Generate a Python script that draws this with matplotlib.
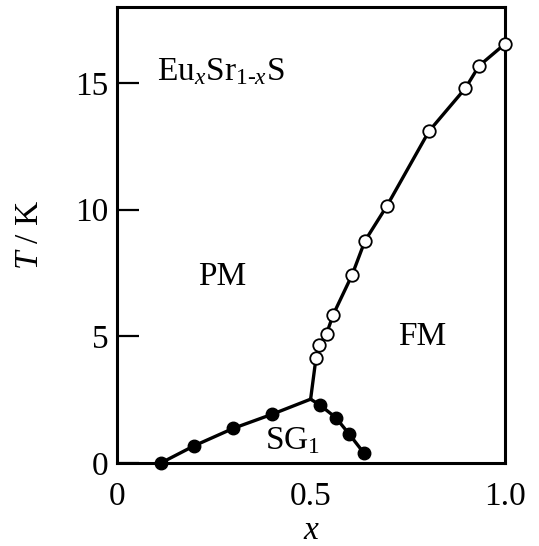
import matplotlib
matplotlib.use("Agg")
import matplotlib.pyplot as plt

plt.rcParams['font.family'] = 'Liberation Serif'
plt.rcParams['mathtext.fontset'] = 'custom'
plt.rcParams['mathtext.rm'] = 'Liberation Serif'
plt.rcParams['mathtext.it'] = 'Liberation Serif:italic'

# SG boundary, low-x side (filled circles)
sg_left_x = [0.113, 0.199, 0.300, 0.399]
sg_left_T = [0.0, 0.68, 1.37, 1.92]
# SG boundary, high-x side (filled circles)
sg_right_x = [0.523, 0.564, 0.599, 0.637]
sg_right_T = [2.29, 1.79, 1.13, 0.38]
# Curie temperature (open circles)
fm_x = [0.513, 0.521, 0.540, 0.557, 0.606, 0.639, 0.696, 0.804, 0.898, 0.933, 1.0]
fm_T = [4.16, 4.64, 5.10, 5.85, 7.43, 8.77, 10.16, 13.1, 14.8, 15.68, 16.55]
# multicritical point where the three lines meet
jx, jT = 0.499, 2.52

fig = plt.figure(figsize=(5.39, 5.46), dpi=100)
ax = fig.add_axes([0.217, 0.152, 0.72, 0.835])

ax.plot(sg_left_x + [jx], sg_left_T + [jT], color='black', lw=2.4, zorder=2)
ax.plot([jx] + sg_right_x, [jT] + sg_right_T, color='black', lw=2.4, zorder=2)
ax.plot([jx] + fm_x, [jT] + fm_T, color='black', lw=2.4, zorder=2)

ax.plot(sg_left_x, sg_left_T, 'o', color='black', ms=9, zorder=3, clip_on=False)
ax.plot(sg_right_x, sg_right_T, 'o', color='black', ms=9, zorder=3, clip_on=False)
ax.plot(fm_x, fm_T, 'o', mfc='white', mec='black', mew=1.3, ms=9, zorder=3, clip_on=False)

ax.set_xlim(0, 1.0)
ax.set_ylim(0, 18)
ax.set_xticks([0, 0.5, 1.0])
ax.set_xticklabels(['0', '0.5', '1.0'])
ax.set_yticks([0, 5, 10, 15])
ax.tick_params(axis='y', direction='in', length=16, width=1.6, labelsize=24, pad=6)
ax.tick_params(axis='x', length=0, labelsize=24, pad=13)
for s in ax.spines.values():
    s.set_linewidth(2.2)

ax.set_xlabel('$x$', fontsize=24, labelpad=3)
ax.set_ylabel('$T$ / K', fontsize=24, labelpad=22)

ax.text(0.103, 15.45, r'Eu$_x$Sr$_{\mathrm{1\text{-}}x}$S', fontsize=24, va='center')
ax.text(0.27, 7.35, 'PM', fontsize=24, ha='center', va='center')
ax.text(0.786, 4.98, 'FM', fontsize=24, ha='center', va='center')
ax.text(0.381, 0.55, r'SG$_1$', fontsize=24, ha='left', va='baseline')

fig.savefig('out.png', dpi=100)
